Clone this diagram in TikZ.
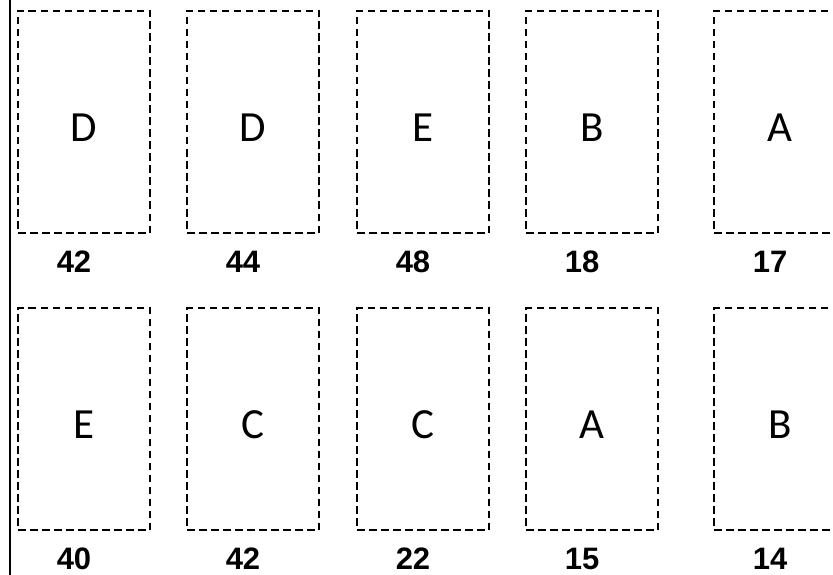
\documentclass[tikz,border=0pt]{standalone}
\usepackage{fontspec}
\setmainfont{Carlito}
\newfontfamily\labfont{Liberation Sans}
\begin{document}
\begin{tikzpicture}[x=1pt,y=-1pt,
  slot/.style={draw, line width=2pt, dash pattern=on 7.5pt off 4.5pt, minimum width=132pt, minimum height=222pt, inner sep=0pt, anchor=north west},
  letter/.style={font=\fontsize{43}{43}\selectfont, inner sep=0pt},
  num/.style={font=\labfont\bfseries\fontsize{31}{31}\selectfont, inner sep=0pt}]
\useasboundingbox (0,0) rectangle (833,575);
\clip (0,0) rectangle (833,575);
\coordinate (vtop) at (10,0);
\coordinate (vbot) at (10,575);
\draw[line width=2.5pt] (vtop) -- (vbot);
% columns
\foreach \i/\x/\ta/\tn/\ba/\bn in {1/17/D/42/E/40, 2/186/D/44/C/42, 3/356/E/48/C/22, 4/525/B/18/A/15, 5/713/A/17/B/14}{
  \node[slot] (t\i) at (\x,10) {};
  \node[letter] (tl\i) at ([yshift=-6pt]t\i.center) {\ta};
  \node[num] (tn\i) at (\x+57,262) {\tn};
  \node[slot] (b\i) at (\x,307) {};
  \node[letter] (bl\i) at ([yshift=-6pt]b\i.center) {\ba};
  \node[num] (bn\i) at (\x+57,559) {\bn};
}
\end{tikzpicture}
\end{document}
